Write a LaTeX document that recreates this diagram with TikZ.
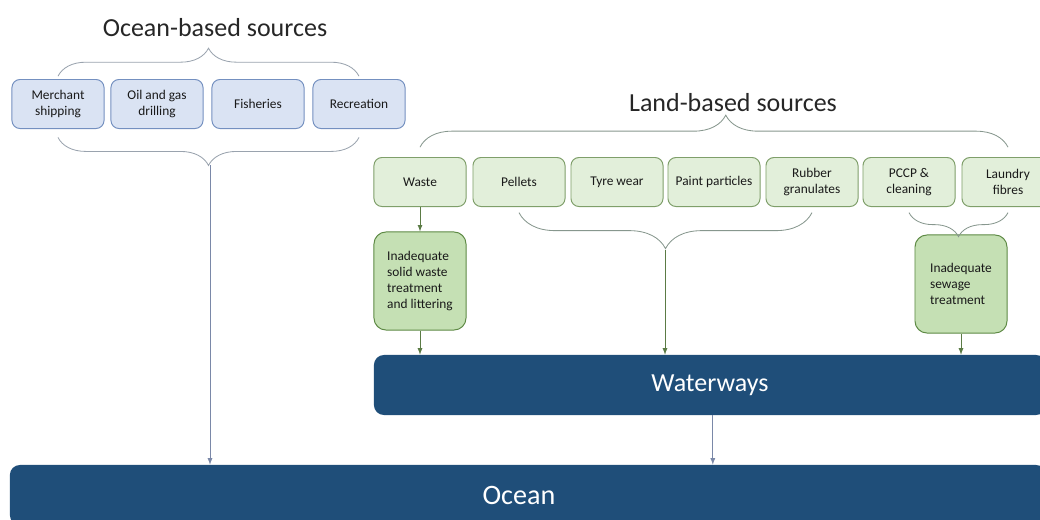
\documentclass[tikz,border=0pt]{standalone}
\usepackage{fontspec}
\setmainfont{Carlito}
\usepackage{xcolor}
\usetikzlibrary{arrows,decorations.pathreplacing}

\definecolor{oceanfill}{HTML}{DAE3F3}
\definecolor{oceanedge}{HTML}{7490C0}
\definecolor{landfill}{HTML}{E2EFDA}
\definecolor{landedge}{HTML}{7F9F6A}
\definecolor{badfill}{HTML}{C5E0B4}
\definecolor{badedge}{HTML}{5E8A45}
\definecolor{navy}{HTML}{1F4E79}
\definecolor{bracegray}{HTML}{9AA3AE}
\definecolor{arrowblue}{HTML}{7A88A8}
\definecolor{arrowgreen}{HTML}{5B7B45}

\tikzset{
  src/.style={rounded corners=0.2cm, minimum width=2.3cm, minimum height=1.225cm,
    align=center, line width=0.7pt, text=black!90, font=\fontsize{9.5}{11}\selectfont},
  oceansrc/.style={src, fill=oceanfill, draw=oceanedge},
  landsrc/.style={src, fill=landfill, draw=landedge},
  gapbox/.style={rounded corners=0.3cm, minimum width=2.3cm, minimum height=2.45cm,
    align=left, fill=badfill, draw=badedge, line width=0.7pt, text=black!90,
    font=\fontsize{9.5}{11.2}\selectfont},
  water/.style={rounded corners=0.25cm, fill=navy, text=white, minimum height=1.5cm,
    font=\fontsize{18.5}{22}\selectfont},
  heading/.style={font=\fontsize{18.5}{22}\selectfont, text=black!85},
  curly/.style={decorate, decoration={brace, amplitude=#1}},
  oceanline/.style={draw=bracegray, line width=0.6pt},
  landline/.style={draw=bracegray!70!arrowgreen, line width=0.6pt},
  oceanarrow/.style={draw=arrowblue, line width=0.6pt, -latex},
  landarrow/.style={draw=arrowgreen, line width=0.6pt, -latex},
}

\begin{document}
\begin{tikzpicture}[x=0.025cm, y=-0.025cm]
\clip (0,0) rectangle (1040,520);

\node[heading] (oceantitle) at (215,28) {Ocean-based sources};
\node[oceansrc] (ship) at (58,104) {Merchant\\shipping};
\node[oceansrc] (oil) at (157,104) {Oil and gas\\drilling};
\node[oceansrc] (fish) at (258,104) {Fisheries};
\node[oceansrc] (recr) at (359,104) {Recreation};

\node[heading] (landtitle) at (733,103) {Land-based sources};
\node[landsrc] (waste) at (420,182) {Waste};
\node[landsrc] (pellets) at (519,182) {Pellets};
\node[landsrc] (tyre) at (617,182) {Tyre wear};
\node[landsrc] (paint) at (714,182) {Paint particles};
\node[landsrc] (rubber) at (812,182) {Rubber\\granulates};
\node[landsrc] (pccp) at (909,182) {PCCP \&\\cleaning};
\node[landsrc] (laundry) at (1008,182) {Laundry\\fibres};

\node[gapbox] (solid) at (420,281) {Inadequate\\solid waste\\treatment\\and littering};
\node[gapbox] (sewage) at (961,284) {Inadequate\\sewage\\treatment};

\node[water, minimum width=16.8cm] (waterways) at (710,385) {Waterways};
\node[water, minimum width=25.9cm, font=\fontsize{20}{24}\selectfont] (ocean) at (528,495) {\hspace*{-0.45cm}Ocean};

\coordinate (otip) at (210,165);
\coordinate (mtip) at (665,250);

\draw[oceanline, curly=0.7cm] ([yshift=2pt]ship.north) -- ([yshift=2pt]recr.north);
\draw[oceanline, curly=0.7cm, decoration={mirror}] ([yshift=-6pt]ship.south) -- ([yshift=-6pt]recr.south);
\draw[landline, curly=0.8cm, decoration={aspect=0.52}] ([yshift=7pt]waste.north) -- ([yshift=7pt]laundry.north);
\draw[landline, curly=0.9cm, decoration={mirror}] ([yshift=-4pt]pellets.south) -- ([yshift=-4pt]rubber.south);
\draw[landline, curly=0.6cm, decoration={mirror}] ([yshift=-4pt]pccp.south) -- ([yshift=-4pt]laundry.south);

\draw[oceanarrow] (otip) -- (otip |- ocean.north);
\draw[landarrow] (waste) -- (solid);
\draw[landarrow] (solid) -- (solid |- waterways.north);
\draw[landarrow] (mtip) -- (mtip |- waterways.north);
\draw[landarrow] (sewage) -- (sewage |- waterways.north);
\draw[oceanarrow] ([xshift=2pt]waterways.south) -- ([xshift=2pt]waterways.south |- ocean.north);

\end{tikzpicture}
\end{document}
